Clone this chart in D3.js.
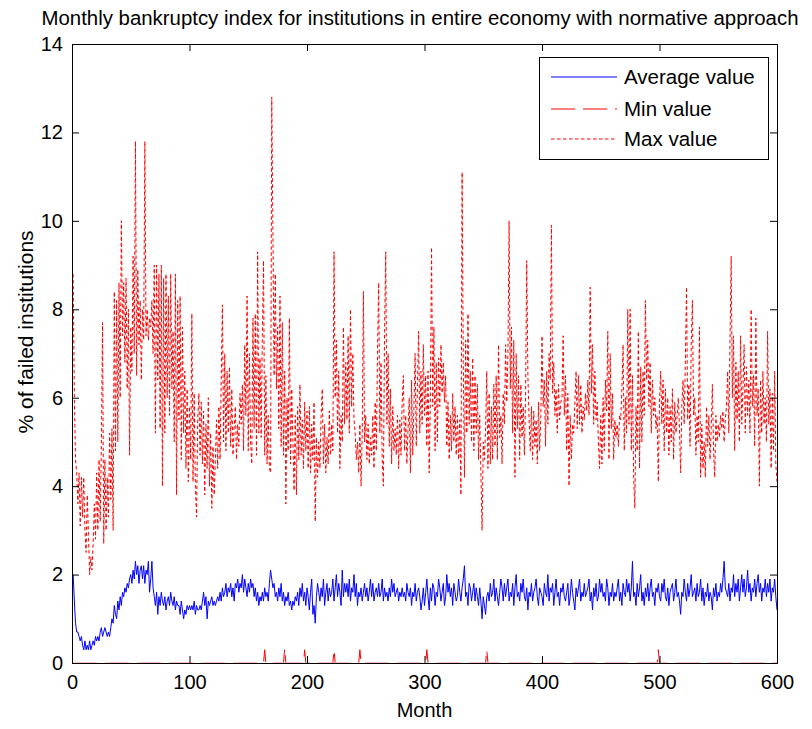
<!DOCTYPE html>
<html>
<head>
<meta charset="utf-8">
<script src="https://cdn.jsdelivr.net/npm/d3@7"></script>
<style>
  body { margin: 0; background: #fff; }
  svg { display: block; }
  text { font-family: "Liberation Sans", Arial, Helvetica, sans-serif; fill: #000; }
</style>
</head>
<body>
<svg id="chart" width="812" height="729"></svg>
<script>
// Monthly average share of failed institutions (%), months 1..600
const avgValues = [
  2.0,1.4,0.9,0.7,0.7,0.6,0.5,0.6,0.4,0.3,
  0.5,0.3,0.4,0.3,0.5,0.3,0.4,0.5,0.4,0.6,
  0.5,0.6,0.5,0.7,0.8,0.6,0.7,0.8,0.7,0.6,
  0.7,0.6,0.8,1.0,0.9,1.3,1.1,1.0,1.4,1.2,
  1.5,1.3,1.6,1.5,1.7,1.6,1.8,1.7,1.9,2.0,
  1.8,2.1,1.9,2.3,2.0,2.2,1.8,2.1,2.2,1.9,
  2.2,1.8,2.1,2.0,2.3,1.6,1.9,2.3,1.7,1.5,
  1.3,1.6,1.1,1.5,1.3,1.6,1.4,1.3,1.5,1.2,
  1.4,1.5,1.3,1.6,1.4,1.3,1.5,1.2,1.4,1.3,
  1.3,1.1,1.4,1.2,1.0,1.2,1.1,1.3,1.2,1.3,
  1.2,1.3,1.2,1.4,1.1,1.3,1.2,1.2,1.3,1.2,
  1.4,1.6,1.3,1.5,1.0,1.4,1.3,1.4,1.5,1.3,
  1.4,1.3,1.4,1.5,1.4,1.6,1.4,1.7,1.5,1.6,
  1.8,1.5,1.7,1.6,1.8,1.5,1.7,1.4,1.8,1.7,
  1.9,1.6,1.8,1.7,2.0,1.6,1.9,1.7,1.5,1.8,
  1.6,1.9,1.7,1.8,1.5,1.7,1.4,1.6,1.3,1.5,
  1.4,1.6,1.4,1.7,1.5,1.6,1.4,1.8,2.1,1.9,
  1.7,1.8,1.5,1.6,1.4,1.7,1.5,1.8,1.4,1.6,
  1.3,1.5,1.4,1.6,1.3,1.4,1.2,1.4,1.3,1.5,
  1.4,1.6,1.3,1.7,1.5,1.8,1.4,1.6,1.3,1.7,
  1.5,1.2,1.6,1.9,1.1,1.3,0.9,1.5,1.8,1.6,
  1.4,1.7,1.5,1.9,1.3,1.6,1.8,1.4,1.7,1.5,
  1.6,1.9,1.4,1.7,2.0,1.5,1.8,1.6,1.3,2.1,
  1.5,1.8,1.6,1.8,1.5,1.9,1.4,1.7,1.6,2.0,
  1.5,1.8,1.3,1.6,1.5,1.7,1.4,1.6,1.8,1.5,
  1.7,1.4,1.6,1.9,1.5,1.8,1.4,1.6,1.7,1.5,
  1.8,1.5,1.6,1.9,1.4,1.7,1.5,1.6,1.4,1.7,
  1.5,1.9,1.6,1.8,1.5,1.6,1.7,1.4,1.6,1.5,
  1.7,1.5,1.6,1.4,1.8,1.6,1.5,1.7,1.3,1.6,
  1.5,1.8,1.4,1.6,1.7,1.5,1.2,1.4,1.7,1.3,
  1.6,1.9,1.5,1.2,1.7,1.4,1.8,1.7,1.3,1.6,
  1.5,1.9,1.7,1.4,1.6,1.8,1.3,1.5,2.0,1.6,
  1.8,1.5,1.7,1.3,1.8,1.6,1.4,1.5,1.9,1.6,
  1.4,1.7,1.9,2.2,1.5,1.6,1.3,1.8,1.7,1.4,
  1.6,1.8,1.4,1.7,1.5,1.3,1.7,1.4,1.0,1.5,
  1.3,1.1,1.5,1.6,1.4,1.8,1.5,1.6,1.9,1.4,
  1.7,1.5,1.3,1.6,1.9,1.7,1.4,1.8,1.5,1.7,
  1.9,1.4,1.6,1.5,1.8,1.3,1.7,2.0,1.5,1.6,
  1.4,1.8,1.6,1.9,1.5,1.4,1.7,1.2,1.6,1.5,
  1.8,1.4,1.6,1.7,1.9,1.5,1.3,1.7,1.6,1.5,
  1.3,1.8,1.6,1.5,2.0,1.4,1.7,1.6,1.8,1.3,
  1.6,1.9,1.5,1.6,1.3,1.7,1.6,1.8,1.5,1.4,
  1.6,1.8,1.3,1.5,1.9,1.6,1.4,1.2,1.7,1.5,
  1.7,1.9,1.4,1.6,1.5,1.8,1.5,1.6,1.7,1.9,
  1.4,1.6,1.2,1.7,1.5,1.8,1.4,1.5,1.9,1.6,
  1.8,1.5,1.6,1.4,1.9,1.7,1.3,1.6,1.5,1.8,
  1.4,1.6,1.5,1.7,1.9,1.4,1.6,1.3,1.8,1.6,
  1.5,1.9,1.6,1.8,1.4,1.7,2.3,1.5,1.6,1.3,
  1.8,1.5,1.7,2.0,1.4,1.6,1.3,1.7,1.5,1.8,
  1.4,1.7,1.9,1.5,1.6,1.3,1.7,1.6,1.8,1.5,
  1.4,1.8,1.6,1.9,1.5,1.4,1.7,1.3,1.6,1.7,
  1.8,1.4,1.6,1.9,1.5,1.6,1.4,1.1,1.6,1.5,
  1.9,1.6,1.4,1.8,1.5,1.7,2.0,1.5,1.6,1.7,
  1.4,1.8,1.5,1.6,1.9,1.4,1.7,1.3,1.6,1.5,
  1.8,1.4,1.6,1.5,1.2,1.7,1.5,1.8,1.4,1.6,
  1.5,1.8,1.6,1.9,2.3,1.7,1.6,1.5,1.8,1.4,
  1.7,1.6,2.0,1.5,1.8,1.6,1.9,1.4,1.7,2.0,
  1.6,1.9,1.5,1.7,2.1,1.6,1.8,1.4,1.7,1.6,
  1.9,1.5,1.8,2.0,1.6,1.8,1.4,1.7,1.6,1.9,
  1.5,1.8,1.6,1.9,1.4,1.7,1.6,1.9,1.5,1.2
];

// Monthly maximum share of failed institutions (%), months 1..600
const maxValues = [
  8.8,6.0,4.6,4.3,3.6,4.3,3.1,4.2,3.3,4.2,
  3.0,2.5,3.8,2.9,2.0,2.4,2.1,2.7,3.6,2.8,
  4.3,3.0,4.6,3.2,4.9,7.7,2.7,4.6,3.0,4.2,
  3.3,5.2,3.7,5.3,3.0,8.4,4.8,8.2,5.0,8.6,
  6.0,10.0,7.4,8.6,6.8,8.7,6.2,8.0,4.7,7.6,
  6.6,9.2,7.0,11.8,6.5,8.9,7.2,8.2,6.4,8.0,
  7.3,11.8,7.4,8.0,7.3,7.8,7.6,8.2,7.0,9.0,
  5.2,9.0,6.4,8.8,5.3,9.0,4.0,8.7,5.2,8.8,
  6.0,8.3,5.6,8.8,6.2,7.5,5.0,8.8,3.8,8.2,
  5.5,8.3,4.6,7.6,5.2,6.6,4.4,6.2,4.1,5.8,
  4.6,7.9,4.1,6.1,4.0,3.3,5.5,6.1,4.7,5.9,
  4.5,5.7,3.8,5.4,4.4,6.0,4.0,5.2,3.5,4.9,
  3.8,4.6,5.5,4.4,5.8,4.6,6.4,8.1,5.0,7.0,
  4.8,6.6,5.2,6.7,4.9,6.2,4.7,5.3,5.8,4.6,
  5.4,4.9,6.1,5.4,6.3,4.8,7.2,5.6,8.3,4.8,
  7.0,5.0,4.5,7.8,5.3,7.9,4.7,9.3,5.2,6.9,
  5.1,7.4,9.1,4.7,6.5,4.5,5.6,4.4,4.3,12.8,
  9.7,6.5,8.8,6.2,7.6,5.3,8.3,4.9,7.7,4.7,
  6.6,3.6,6.0,4.8,7.8,4.5,6.2,5.0,3.9,5.6,
  3.8,5.8,4.6,6.3,4.7,5.5,4.4,5.9,4.8,5.7,
  4.4,5.8,4.3,5.4,4.6,5.9,3.2,5.1,4.2,5.0,
  4.4,5.6,6.2,4.5,5.4,4.3,5.1,4.5,5.7,4.7,
  5.4,4.8,9.3,6.0,7.3,5.2,6.6,4.4,5.6,5.0,
  7.6,5.4,6.8,5.5,7.4,5.2,8.0,5.8,7.0,5.5,
  5.2,4.6,5.0,4.3,5.4,4.0,5.2,8.4,5.0,5.6,
  4.6,5.4,4.5,5.1,4.7,5.6,4.4,5.9,4.8,7.0,
  8.6,5.2,6.8,4.6,4.0,7.5,9.3,5.4,7.0,4.9,
  6.2,4.5,5.8,4.8,5.3,4.7,5.6,4.4,5.5,4.7,
  5.9,6.5,4.8,5.6,4.5,5.3,6.0,4.3,6.4,4.7,
  5.8,7.0,4.9,6.3,7.5,5.2,6.6,5.4,7.2,5.6,
  6.5,4.9,6.6,4.3,6.0,9.4,5.8,7.6,4.8,6.8,
  5.0,6.9,5.8,7.2,6.1,6.8,5.9,6.5,4.9,5.9,
  4.6,5.6,4.8,6.1,5.0,5.8,4.7,5.6,4.6,5.5,
  3.8,11.1,6.8,4.2,7.3,5.2,7.9,5.4,6.6,5.0,
  6.9,4.8,6.5,5.2,6.3,4.6,5.6,4.3,3.0,5.0,
  4.6,5.3,6.6,4.4,6.1,4.5,5.8,4.6,6.3,4.9,
  6.5,4.6,7.2,5.1,5.6,4.5,6.1,5.4,7.2,5.9,
  7.0,10.0,6.2,7.6,5.2,7.3,4.2,7.0,5.3,6.5,
  4.6,6.3,5.1,5.8,4.7,6.0,9.1,6.5,5.5,4.8,
  5.8,4.6,5.7,4.9,5.5,4.5,5.9,4.8,5.6,7.4,
  5.8,6.4,4.9,6.6,5.4,7.0,6.4,9.9,6.1,6.8,
  5.6,6.2,5.2,6.3,5.5,5.9,6.0,7.4,5.6,6.5,
  4.8,6.1,4.0,5.6,4.6,5.4,5.2,5.9,6.6,5.3,
  6.5,5.4,6.3,5.2,5.8,5.5,6.1,5.7,6.4,5.6,
  8.5,6.1,7.2,5.4,6.6,5.5,5.9,5.0,4.4,5.6,
  4.5,6.0,4.8,6.4,5.7,7.5,4.6,7.0,5.3,6.1,
  4.6,5.5,5.1,5.4,4.9,5.6,5.5,6.2,7.2,4.8,
  6.0,5.2,8.0,5.4,8.0,4.8,6.5,4.2,3.5,5.8,
  4.8,7.5,4.4,6.7,5.0,6.6,5.6,8.2,6.4,7.3,
  5.8,6.8,5.2,6.4,5.6,6.0,5.3,5.6,4.1,5.9,
  6.6,5.4,6.4,4.8,6.2,5.2,6.0,4.7,5.8,5.0,
  6.2,4.6,5.9,5.2,5.6,6.0,5.3,4.3,5.8,6.4,
  5.4,6.8,8.5,5.5,6.3,4.9,7.2,8.2,5.6,6.0,
  4.7,5.6,5.0,7.6,4.2,5.4,4.4,5.0,4.2,5.8,
  4.9,5.6,4.6,5.3,6.3,4.8,4.2,5.6,5.0,5.4,
  5.1,5.6,5.3,5.7,5.0,5.5,5.8,6.6,5.2,7.3,
  9.2,6.0,7.4,4.8,6.8,5.5,6.6,5.0,7.4,5.4,
  6.2,7.2,5.2,6.7,5.6,6.4,5.2,8.0,5.8,6.5,
  4.9,7.8,5.6,6.2,4.0,6.4,5.2,6.6,5.4,6.0,
  5.0,7.5,5.4,6.2,4.4,6.1,4.8,6.6,4.5,4.1
];

// Monthly minimum: zero except in these months
const minSpikeMonths = [164, 181, 198, 223, 245, 302, 353, 499];
const minSpikeValues = [0.3, 0.33, 0.3, 0.3, 0.3, 0.3, 0.3, 0.3];

const xTicks = [0, 100, 200, 300, 400, 500, 600];
const yTicks = [0, 2, 4, 6, 8, 10, 12, 14];
const seriesNames = ["Average value", "Min value", "Max value"];
const titleText = "Monthly bankruptcy index for institutions in entire economy with normative approach";
const xLabel = "Month";
const yLabel = "% of failed institutions";

const months = d3.range(1, avgValues.length + 1);
const minValues = months.map(m => {
  const k = minSpikeMonths.indexOf(m);
  return k >= 0 ? minSpikeValues[k] : 0;
});

const plot = { left: 72, right: 777, top: 44, bottom: 663 };
const x = d3.scaleLinear().domain([0, 600]).range([plot.left, plot.right]);
const y = d3.scaleLinear().domain([0, 14]).range([plot.bottom, plot.top]);

const svg = d3.select("#chart");
svg.append("rect").attr("width", 812).attr("height", 729).attr("fill", "#fff");

// Clip ends just above the bottom frame so the zero run of the minimum hides under the axis
svg.append("defs").append("clipPath").attr("id", "plot-clip")
  .append("rect")
  .attr("x", plot.left).attr("y", plot.top)
  .attr("width", plot.right - plot.left).attr("height", plot.bottom - plot.top - 0.5);

const series = [
  { name: seriesNames[0], values: avgValues, color: "#0000ff", dash: null },
  { name: seriesNames[1], values: minValues, color: "#ff0000", dash: "24,8" },
  { name: seriesNames[2], values: maxValues, color: "#ff0000", dash: "3.5,2.5" }
];

const line = d3.line()
  .x((d, i) => x(months[i]))
  .y(d => y(d));

const lines = svg.append("g").attr("clip-path", "url(#plot-clip)");
series.forEach(s => {
  lines.append("path")
    .datum(s.values)
    .attr("d", line)
    .attr("fill", "none")
    .attr("stroke", s.color)
    .attr("stroke-width", 1)
    .attr("stroke-dasharray", s.dash);
});

// Axes: ticks point inward on all four sides
const tickLen = 7;
const fontSize = 20;

const gBottom = svg.append("g").attr("transform", `translate(0,${plot.bottom})`)
  .call(d3.axisBottom(x).tickValues(xTicks).tickSize(-tickLen).tickSizeOuter(0).tickPadding(12));
const gTop = svg.append("g").attr("transform", `translate(0,${plot.top})`)
  .call(d3.axisTop(x).tickValues(xTicks).tickSize(-tickLen).tickSizeOuter(0).tickFormat(""));
const gLeft = svg.append("g").attr("transform", `translate(${plot.left},0)`)
  .call(d3.axisLeft(y).tickValues(yTicks).tickSize(-tickLen).tickSizeOuter(0).tickPadding(9));
const gRight = svg.append("g").attr("transform", `translate(${plot.right},0)`)
  .call(d3.axisRight(y).tickValues(yTicks).tickSize(-tickLen).tickSizeOuter(0).tickFormat(""));

[gBottom, gTop, gLeft, gRight].forEach(g => {
  g.select(".domain").remove();
  g.selectAll(".tick line").attr("stroke", "#000").attr("stroke-width", 1);
  g.selectAll(".tick text")
    .attr("font-size", fontSize)
    .attr("font-family", '"Liberation Sans", Arial, sans-serif')
    .attr("fill", "#000");
});

svg.append("rect")
  .attr("x", plot.left + 0.5).attr("y", plot.top + 0.5)
  .attr("width", plot.right - plot.left).attr("height", plot.bottom - plot.top)
  .attr("fill", "none").attr("stroke", "#000").attr("stroke-width", 1);

// Title and axis labels
svg.append("text")
  .attr("x", 420).attr("y", 25)
  .attr("text-anchor", "middle")
  .attr("font-size", 19.5)
  .attr("textLength", 757)
  .attr("lengthAdjust", "spacingAndGlyphs")
  .text(titleText);

svg.append("text")
  .attr("x", (plot.left + plot.right) / 2).attr("y", 717)
  .attr("text-anchor", "middle")
  .attr("font-size", fontSize)
  .text(xLabel);

svg.append("text")
  .attr("transform", "translate(33,332) rotate(-90)")
  .attr("text-anchor", "middle")
  .attr("font-size", 21)
  .text(yLabel);

// Legend
const legend = svg.append("g");
legend.append("rect")
  .attr("x", 539.5).attr("y", 57.5).attr("width", 229).attr("height", 102)
  .attr("fill", "#fff").attr("stroke", "#000").attr("stroke-width", 1);
const legendRows = [77, 109, 139];
series.forEach((s, i) => {
  legend.append("line")
    .attr("x1", 551).attr("x2", 617)
    .attr("y1", legendRows[i]).attr("y2", legendRows[i])
    .attr("stroke", s.color).attr("stroke-width", 1)
    .attr("stroke-dasharray", s.dash);
  legend.append("text")
    .attr("x", 624).attr("y", legendRows[i] + 7)
    .attr("font-size", 20.5)
    .text(s.name);
});
</script>
</body>
</html>
